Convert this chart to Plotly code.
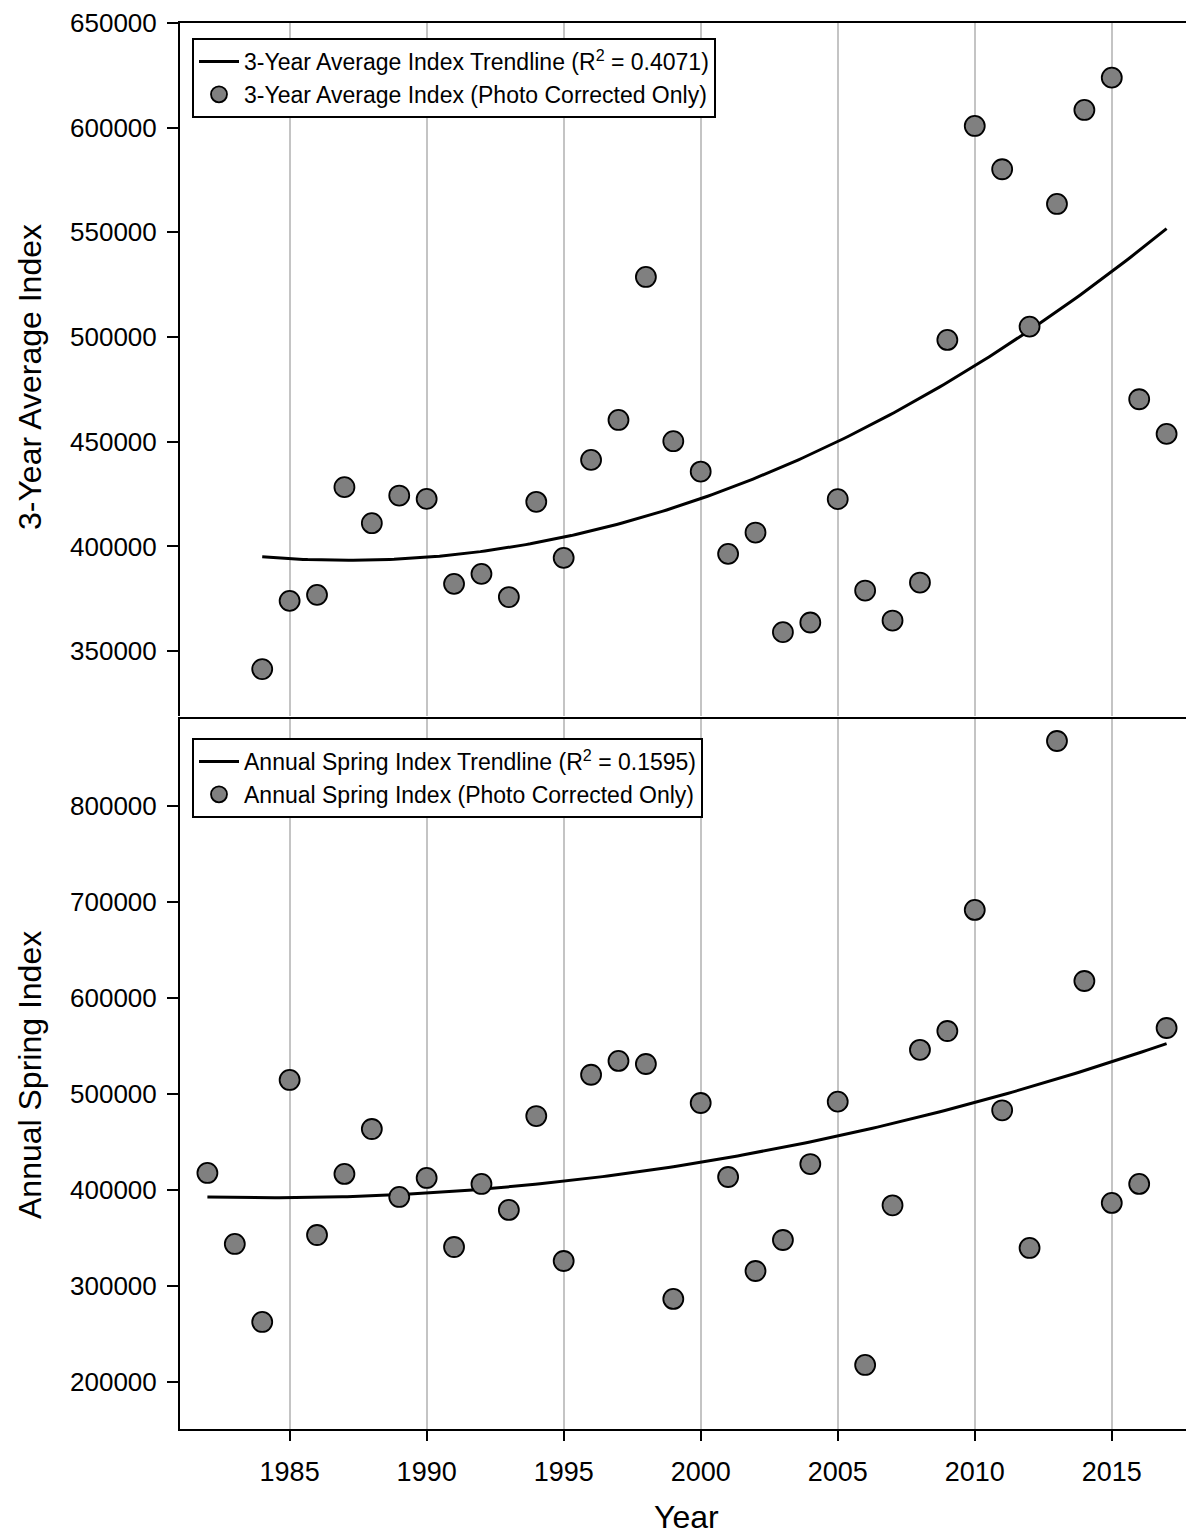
import numpy as np
import plotly.graph_objects as go

# ---------------- data ----------------
years_avg = list(range(1984, 2018))
avg_index = [341400, 373990, 376870, 428300, 411100, 424300, 422700, 382120,
             386900, 375800, 421300, 394540, 441330, 460400, 528700, 450260,
             435750, 396450, 406620, 359050, 363650, 422570, 378920, 364600,
             382750, 498630, 600820, 580140, 504980, 563570, 608460, 623900,
             470300, 453750]

years_spring = list(range(1982, 2018))
spring_index = [417700, 343750, 262500, 514600, 353100, 416700, 463500, 392700,
                412500, 340600, 406250, 379200, 477000, 326000, 520000, 534400,
                531200, 286500, 490610, 413530, 315610, 347900, 427000, 492000,
                217700, 384000, 546000, 565600, 691700, 483000, 339600, 867700,
                617700, 386500, 406300, 568700]

x_ticks = [1985, 1990, 1995, 2000, 2005, 2010, 2015]
y_ticks_top = [350000, 400000, 450000, 500000, 550000, 600000, 650000]
y_ticks_bot = [200000, 300000, 400000, 500000, 600000, 700000, 800000]

label_top_line = "3-Year Average Index Trendline (R<sup>2</sup> = 0.4071)"
label_top_pts = "3-Year Average Index (Photo Corrected Only)"
label_bot_line = "Annual Spring Index Trendline (R<sup>2</sup> = 0.1595)"
label_bot_pts = "Annual Spring Index (Photo Corrected Only)"

# ---------------- trendlines (2nd order fits of the data) ----------------
def quad_fit(xs, ys):
    c = np.polyfit(xs, ys, 2)
    xx = np.linspace(min(xs), max(xs), 200)
    return xx, np.polyval(c, xx)

tx1, ty1 = quad_fit(years_avg, avg_index)
tx2, ty2 = quad_fit(years_spring, spring_index)

OFF = 8  # page body margin
W, H = 1194 - OFF, 1536 - OFF
FONT = "Liberation Sans, Arial, sans-serif"

marker = dict(size=20, color="#808080", line=dict(color="black", width=1.8))

fig = go.Figure()
fig.add_trace(go.Scatter(x=tx1, y=ty1, mode="lines", name=label_top_line,
                         line=dict(color="black", width=3), xaxis="x", yaxis="y",
                         legend="legend"))
fig.add_trace(go.Scatter(x=years_avg, y=avg_index, mode="markers", name=label_top_pts,
                         marker=marker, xaxis="x", yaxis="y", legend="legend"))
fig.add_trace(go.Scatter(x=tx2, y=ty2, mode="lines", name=label_bot_line,
                         line=dict(color="black", width=3), xaxis="x2", yaxis="y2",
                         legend="legend2"))
fig.add_trace(go.Scatter(x=years_spring, y=spring_index, mode="markers", name=label_bot_pts,
                         marker=marker, xaxis="x2", yaxis="y2", legend="legend2"))

def py(p):
    return 1 - (p - OFF) / H

def px(p):
    return (p - OFF) / W

x_dom = [px(180), 1.0]
top_dom = [py(716), py(23)]
bot_dom = [py(1429), py(719)]

grid = dict(showgrid=True, gridcolor="#c4c4c4", gridwidth=1.5)
tickfont = dict(family=FONT, size=26, color="black")
legfont = dict(family=FONT, size=23, color="black")

fig.update_layout(
    width=W, height=H,
    margin=dict(l=0, r=0, t=0, b=0, autoexpand=False),
    paper_bgcolor="white", plot_bgcolor="white",
    font=dict(family=FONT, color="black"),
    xaxis=dict(domain=x_dom, range=[1981, 2018], tickmode="array", tickvals=x_ticks,
               side="top", showline=True, linecolor="black", linewidth=2,
               showticklabels=False, ticks="", anchor="y", zeroline=False,
               automargin=False, **grid),
    yaxis=dict(domain=top_dom, range=[319000, 650000], tickmode="array",
               tickvals=y_ticks_top, tickformat="d", ticks="outside", ticklen=11,
               tickwidth=2, tickcolor="black", showline=True, linecolor="black",
               linewidth=2, showgrid=False, zeroline=False, tickfont=tickfont,
               anchor="x", ticklabelstandoff=5, automargin=False),
    xaxis2=dict(domain=x_dom, range=[1981, 2018], tickmode="array", tickvals=x_ticks,
                showline=True, mirror=True, linecolor="black", linewidth=2,
                ticks="outside", ticklen=10, tickwidth=2, tickcolor="black",
                tickfont=dict(family=FONT, size=27, color="black"),
                anchor="y2", zeroline=False, ticklabelstandoff=8,
                automargin=False, **grid),
    yaxis2=dict(domain=bot_dom, range=[151000, 890600], tickmode="array",
                tickvals=y_ticks_bot, tickformat="d", ticks="outside", ticklen=11,
                tickwidth=2, tickcolor="black", showline=True, linecolor="black",
                linewidth=2, showgrid=False, zeroline=False, tickfont=tickfont,
                anchor="x2", ticklabelstandoff=5, automargin=False),
    legend=dict(x=px(192), y=py(38), xanchor="left", yanchor="top",
                bordercolor="black", borderwidth=2, bgcolor="white",
                font=legfont, traceorder="normal", itemwidth=40),
    legend2=dict(x=px(192), y=py(738), xanchor="left", yanchor="top",
                 bordercolor="black", borderwidth=2, bgcolor="white",
                 font=legfont, traceorder="normal", itemwidth=40),
    showlegend=True,
    annotations=[
        dict(text="3-Year Average Index", x=px(30), y=py(377), xref="paper",
             yref="paper", textangle=-90, showarrow=False,
             xanchor="center", yanchor="middle",
             font=dict(family=FONT, size=32, color="black")),
        dict(text="Annual Spring Index", x=px(30), y=py(1075), xref="paper",
             yref="paper", textangle=-90, showarrow=False,
             xanchor="center", yanchor="middle",
             font=dict(family=FONT, size=32, color="black")),
        dict(text="Year", x=px(687), y=py(1517), xref="paper", yref="paper",
             showarrow=False, xanchor="center", yanchor="middle",
             font=dict(family=FONT, size=32, color="black")),
    ],
)

fig.write_html("out.html")
